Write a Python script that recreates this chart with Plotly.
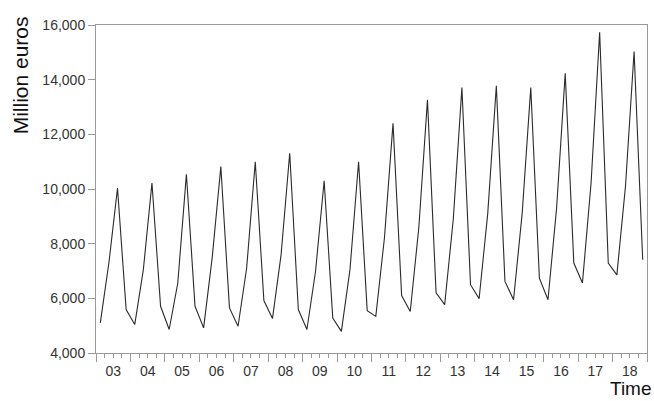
import plotly.graph_objects as go

# Quarterly data, 2003Q1 .. 2018Q4 (million euros)
years = list(range(2003, 2019))
year_labels = ["03", "04", "05", "06", "07", "08", "09", "10",
               "11", "12", "13", "14", "15", "16", "17", "18"]
values = [
    5100, 7300, 10030, 5590,
    5040, 7050, 10220, 5710,
    4860, 6560, 10540, 5710,
    4920, 7500, 10820, 5650,
    4980, 7110, 11000, 5920,
    5260, 7600, 11310, 5590,
    4860, 6990, 10300, 5280,
    4790, 7050, 11000, 5550,
    5340, 8200, 12400, 6100,
    5520, 8600, 13260, 6200,
    5770, 8900, 13710, 6500,
    5990, 9100, 13780, 6620,
    5950, 9100, 13710, 6740,
    5950, 9300, 14230, 7290,
    6560, 10200, 15730, 7290,
    6860, 10100, 15030, 7410,
]
y_ticks = [4000, 6000, 8000, 10000, 12000, 14000, 16000]

n = len(values)
x = list(range(n))
n_years = len(years)
year_bounds = [-0.5 + 4 * k for k in range(n_years + 1)]
quarter_bounds = [-0.5 + q for q in range(n + 1)]
label_pos = [1.5 + 4 * k for k in range(n_years)]

axis_col = "#9a9a9a"
text_col = "#333333"
font_family = "Liberation Sans, Arial, sans-serif"

fig = go.Figure()
fig.add_trace(go.Scatter(x=x, y=values, mode="lines",
                         line=dict(color="#2b2b2b", width=1.1),
                         hoverinfo="skip", showlegend=False))
# helper trace for label axis
fig.add_trace(go.Scatter(x=x, y=values, mode="lines", xaxis="x2",
                         line=dict(width=0, color="rgba(0,0,0,0)"),
                         hoverinfo="skip", showlegend=False))

xr = [-0.5, n - 0.5]
fig.update_layout(
    width=654, height=401,
    margin=dict(l=96, r=7, t=25, b=48),
    paper_bgcolor="white", plot_bgcolor="white",
    font=dict(family=font_family, size=14, color=text_col),
    xaxis=dict(
        range=xr, showgrid=False, zeroline=False,
        showline=True, linecolor=axis_col, linewidth=1, mirror=True,
        tickmode="array", tickvals=year_bounds, showticklabels=False,
        ticks="outside", ticklen=8, tickcolor=axis_col, tickwidth=1,
        minor=dict(tickmode="array", tickvals=quarter_bounds,
                   ticks="outside", ticklen=4, tickcolor=axis_col,
                   tickwidth=1, showgrid=False),
    ),
    xaxis2=dict(
        range=xr, overlaying="x", side="bottom", matches="x",
        showgrid=False, zeroline=False, showline=False,
        tickmode="array", tickvals=label_pos, ticktext=year_labels,
        ticks="", tickfont=dict(size=14, color=text_col),
        ticklabelstandoff=8,
    ),
    yaxis=dict(
        range=[y_ticks[0], y_ticks[-1]], showgrid=False, zeroline=False,
        showline=True, linecolor=axis_col, linewidth=1, mirror=True,
        tickmode="array", tickvals=y_ticks, tickformat=",",
        ticks="outside", ticklen=7, tickcolor=axis_col,
        tickfont=dict(size=14, color=text_col),
    ),
    annotations=[
        dict(text="Million euros", textangle=-90, xref="paper", yref="paper",
             x=-0.137, y=0.845, xanchor="center", yanchor="middle",
             showarrow=False, font=dict(size=21, color="#111111")),
        dict(text="Time", xref="paper", yref="paper",
             x=1.01, y=-0.143, xanchor="right", yanchor="bottom",
             borderpad=0,
             showarrow=False, font=dict(size=19, color="#111111")),
    ],
)

fig.write_html("out.html")
